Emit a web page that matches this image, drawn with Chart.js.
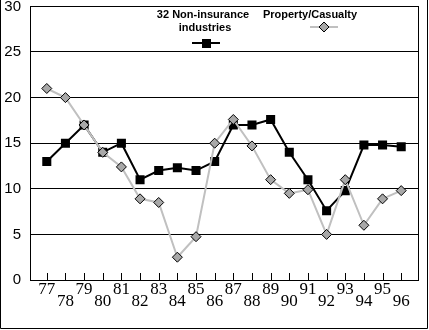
<!DOCTYPE html>
<html>
<head>
<meta charset="utf-8">
<script src="https://cdn.jsdelivr.net/npm/chart.js@4"></script>
<style>
  html, body { margin: 0; padding: 0; background: #fff; }
</style>
</head>
<body>
<canvas id="myChart" width="429" height="330"></canvas>
<script>
// data
var years = [77, 78, 79, 80, 81, 82, 83, 84, 85, 86, 87, 88, 89, 90, 91, 92, 93, 94, 95, 96];
var nonInsurance = [13, 15, 17, 14, 15, 11, 12, 12.3, 12, 13, 17, 17, 17.6, 14, 11, 7.6, 9.8, 14.8, 14.8, 14.6];
var propertyCasualty = [21, 20, 17, 14, 12.4, 8.9, 8.5, 2.5, 4.75, 15, 17.6, 14.7, 11, 9.5, 9.9, 5, 11, 6, 8.9, 9.8];
var yTicks = [0, 5, 10, 15, 20, 25, 30];
var seriesNames = [["32 Non-insurance", "industries"], ["Property/Casualty"]];

function toPoints(values) {
  return values.map(function (v, i) {
    return { x: years[i], y: v };
  });
}

// frame, tick marks and legend drawn on top
var extras = {
  id: "extras",
  afterDraw: function (chart) {
    var ctx = chart.ctx;
    var a = chart.chartArea;
    var xs = chart.scales.x;
    ctx.save();
    ctx.strokeStyle = "#000";
    ctx.lineWidth = 1;

    // plot frame
    ctx.strokeRect(Math.floor(a.left) + 0.5, Math.floor(a.top) + 0.5,
      Math.floor(a.right) - Math.floor(a.left), Math.floor(a.bottom) - Math.floor(a.top));

    // outer frame (left, right, bottom)
    ctx.beginPath();
    ctx.moveTo(0.5, 0);
    ctx.lineTo(0.5, 328.5);
    ctx.lineTo(427.5, 328.5);
    ctx.lineTo(427.5, 0);
    ctx.stroke();

    // small ticks inside the bottom of the plot
    ctx.beginPath();
    years.forEach(function (yr) {
      var px = Math.round(xs.getPixelForValue(yr)) + 0.5;
      ctx.moveTo(px, Math.floor(a.bottom) - 7);
      ctx.lineTo(px, Math.floor(a.bottom));
    });
    ctx.stroke();

    // legend
    ctx.fillStyle = "#000";
    ctx.font = "bold 11px 'Liberation Sans', Arial, sans-serif";
    ctx.textAlign = "center";
    ctx.textBaseline = "alphabetic";
    ctx.fillText(seriesNames[0][0], 203, 17.5);
    ctx.fillText(seriesNames[0][1], 205, 31);
    ctx.fillText(seriesNames[1][0], 310, 17.5);

    ctx.lineWidth = 2;
    ctx.beginPath();
    ctx.moveTo(192, 43);
    ctx.lineTo(220, 43);
    ctx.stroke();
    ctx.fillRect(202, 39, 9, 9);

    ctx.strokeStyle = "#c0c0c0";
    ctx.beginPath();
    ctx.moveTo(310, 27);
    ctx.lineTo(338, 27);
    ctx.stroke();
    ctx.fillStyle = "#a8a8a8";
    ctx.strokeStyle = "#000";
    ctx.lineWidth = 1;
    ctx.beginPath();
    ctx.moveTo(324, 22);
    ctx.lineTo(329, 27);
    ctx.lineTo(324, 32);
    ctx.lineTo(319, 27);
    ctx.closePath();
    ctx.fill();
    ctx.stroke();

    ctx.restore();
  }
};

var ctx = document.getElementById("myChart");
var myChart = new Chart(ctx, {
  type: "line",
  data: {
    datasets: [
      {
        label: seriesNames[0].join(" "),
        data: toPoints(nonInsurance),
        borderColor: "#000",
        borderWidth: 2,
        backgroundColor: "#000",
        pointStyle: "rect",
        pointRadius: 6.4,
        pointBorderWidth: 0,
        tension: 0,
        order: 2
      },
      {
        label: seriesNames[1][0],
        data: toPoints(propertyCasualty),
        borderColor: "#c0c0c0",
        borderWidth: 2,
        pointStyle: "rectRot",
        pointRadius: 5,
        pointBackgroundColor: "#a8a8a8",
        pointBorderColor: "#000",
        pointBorderWidth: 1,
        tension: 0,
        order: 1
      }
    ]
  },
  options: {
    responsive: false,
    animation: false,
    layout: { padding: { left: 0, right: 11, top: 6, bottom: 0 } },
    plugins: {
      legend: { display: false },
      tooltip: { enabled: false }
    },
    scales: {
      x: {
        type: "linear",
        min: 76.1,
        max: 96.9,
        afterBuildTicks: function (scale) {
          scale.ticks = years.map(function (v) { return { value: v }; });
        },
        afterFit: function (scale) { scale.height = 50; },
        grid: { display: false, drawTicks: false },
        border: { display: false },
        ticks: {
          autoSkip: false,
          maxRotation: 0,
          padding: 4,
          color: "#000",
          font: { family: "'Liberation Serif', 'Times New Roman', serif", size: 17, lineHeight: "12px" },
          callback: function (v) {
            return v % 2 ? String(v) : ["", String(v)];
          }
        }
      },
      y: {
        min: 0,
        max: 30,
        afterBuildTicks: function (scale) {
          scale.ticks = yTicks.map(function (v) { return { value: v }; });
        },
        afterFit: function (scale) { scale.width = 30; },
        grid: { color: "#000", lineWidth: 1, drawTicks: true, tickLength: 9, tickColor: "rgba(0,0,0,0)" },
        border: { display: false },
        ticks: {
          padding: 0,
          color: "#000",
          font: { family: "'Liberation Sans', Arial, sans-serif", size: 15, lineHeight: "12px" }
        }
      }
    }
  },
  plugins: [extras]
});
</script>
</body>
</html>
